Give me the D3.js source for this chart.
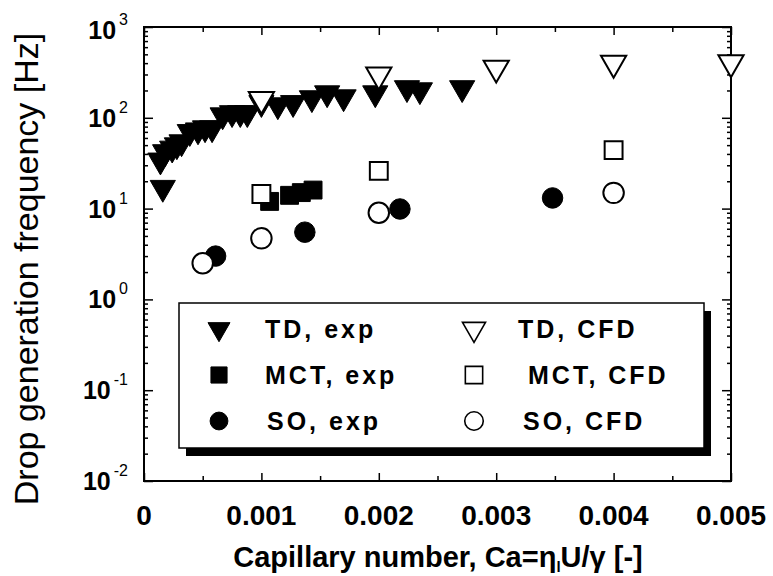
<!DOCTYPE html>
<html>
<head>
<meta charset="utf-8">
<script src="https://cdnjs.cloudflare.com/ajax/libs/d3/7.8.5/d3.min.js"></script>
<style>
	body { margin: 0; background: #fff; }
	text { font-family: "Liberation Sans", Arial, sans-serif; font-weight: bold; fill: #000; }
</style>
</head>
<body>
<svg id="chart" width="773" height="576"></svg>
<script>
// TD, exp (filled down-triangles)
var tdExpCa = [0.00016, 0.00014, 0.00018, 0.00024, 0.00028, 0.00032, 0.00039, 0.00046, 0.00052, 0.00058, 0.00067, 0.00075, 0.00082, 0.00088, 0.00100, 0.00114, 0.00127, 0.00143, 0.00156, 0.00170, 0.00197, 0.00224, 0.00235, 0.00271];
var tdExpF  = [17, 34, 42, 46, 50, 54, 70, 73, 77, 77, 107, 113, 113, 113, 146, 138, 146, 165, 187, 169, 187, 213, 202, 213];
// TD, CFD (open down-triangles)
var tdCfdCa = [0.001, 0.002, 0.003, 0.004, 0.005];
var tdCfdF  = [160, 297, 353, 400, 405];
// MCT, exp (filled squares)
var mctExpCa = [0.00107, 0.00124, 0.00134, 0.00144];
var mctExpF  = [12, 14, 15, 16];
// MCT, CFD (open squares)
var mctCfdCa = [0.001, 0.002, 0.004];
var mctCfdF  = [14.5, 26, 44];
// SO, exp (filled circles)
var soExpCa = [0.00061, 0.00137, 0.00218, 0.00348];
var soExpF  = [3.0, 5.5, 9.9, 13.1];
// SO, CFD (open circles)
var soCfdCa = [0.0005, 0.001, 0.002, 0.004];
var soCfdF  = [2.5, 4.7, 9.0, 14.9];

var xTicks = [0, 0.001, 0.002, 0.003, 0.004, 0.005];
var xMinorTicks = [0.0005, 0.0015, 0.0025, 0.0035, 0.0045];
var yExponents = [-2, -1, 0, 1, 2, 3];
var legendLabels = ["TD, exp", "TD, CFD", "MCT, exp", "MCT, CFD", "SO, exp", "SO, CFD"];

var margin = {left: 144, top: 27, right: 42, bottom: 95},
	width = 773 - margin.left - margin.right,
	height = 576 - margin.top - margin.bottom;

var svg = d3.select("#chart");
var g = svg.append("g").attr("transform", "translate(" + margin.left + "," + margin.top + ")");

var x = d3.scaleLinear().domain([0, 0.005]).range([0, width]);
var y = d3.scaleLog().domain([0.01, 1000]).range([height, 0]);

var yMajor = yExponents.map(function(e){ return Math.pow(10, e); });
var yMinor = y.ticks().filter(function(v){ return Math.abs(Math.log10(v) - Math.round(Math.log10(v))) > 1e-9; });

// frame
g.append("rect")
	.attr("width", width)
	.attr("height", height)
	.attr("fill", "none")
	.attr("stroke", "#000")
	.attr("stroke-width", 2);

function axisLines(axis, tr) {
	var a = g.append("g").attr("transform", tr).call(axis);
	a.select(".domain").remove();
	a.selectAll("line").attr("stroke", "#000").attr("stroke-width", 1.5);
	a.selectAll("text").remove();
	return a;
}

// ticks pointing inward on all four sides
axisLines(d3.axisBottom(x).tickValues(xTicks).tickSize(-8), "translate(0," + height + ")");
axisLines(d3.axisBottom(x).tickValues(xMinorTicks).tickSize(-5), "translate(0," + height + ")");
axisLines(d3.axisTop(x).tickValues(xTicks).tickSize(-8), "translate(0,0)");
axisLines(d3.axisTop(x).tickValues(xMinorTicks).tickSize(-5), "translate(0,0)");
axisLines(d3.axisLeft(y).tickValues(yMajor).tickSize(-9), "translate(0,0)");
axisLines(d3.axisLeft(y).tickValues(yMinor).tickSize(-4), "translate(0,0)");
axisLines(d3.axisRight(y).tickValues(yMajor).tickSize(-9), "translate(" + width + ",0)");
axisLines(d3.axisRight(y).tickValues(yMinor).tickSize(-4), "translate(" + width + ",0)");

// x tick labels
g.selectAll(".xlab")
	.data(xTicks)
	.enter().append("text")
		.attr("class", "xlab")
		.attr("x", function(d){ return x(d); })
		.attr("y", height + 44)
		.attr("text-anchor", "middle")
		.style("font-size", "28px")
		.text(function(d){ return d === 0 ? "0" : d3.format(".3f")(d); });

// y tick labels 10^n
var ylab = g.selectAll(".ylab")
	.data(yExponents)
	.enter().append("text")
		.attr("class", "ylab")
		.attr("x", -16)
		.attr("y", function(d){ return y(Math.pow(10, d)) + (d === 3 ? 12 : 9); })
		.attr("text-anchor", "end")
		.style("font-size", "25px");
ylab.append("tspan").text("10");
ylab.append("tspan")
	.attr("dx", 3)
	.attr("dy", -14)
	.style("font-size", "16px")
	.style("font-weight", "normal")
	.text(function(d){ return d; });

// markers
var triDown = d3.symbol().type(d3.symbolTriangle).size(275);
var square = d3.symbol().type(d3.symbolSquare).size(320);
var circle = d3.symbol().type(d3.symbolCircle).size(330);

function plot(ca, f, path, filled, down) {
	g.append("g").selectAll("path")
		.data(ca.map(function(c, i){ return [c, f[i]]; }))
		.enter().append("path")
			.attr("d", path)
			.attr("transform", function(d){
				return "translate(" + x(d[0]) + "," + y(d[1]) + ")" + (down ? " rotate(180)" : "");
			})
			.attr("fill", filled ? "#000" : "#fff")
			.attr("stroke", "#000")
			.attr("stroke-width", filled ? 1 : 2);
}

plot(tdExpCa, tdExpF, triDown, true, true);
plot(mctExpCa, mctExpF, square, true, false);
plot(soExpCa, soExpF, circle, true, false);
plot(tdCfdCa, tdCfdF, triDown, false, true);
plot(mctCfdCa, mctCfdF, square, false, false);
plot(soCfdCa, soCfdF, circle, false, false);

// legend
var lgLeft = 179, lgTop = 303, lgW = 525, lgH = 145;
var lg = svg.append("g").attr("transform", "translate(" + lgLeft + "," + lgTop + ")");
lg.append("rect")
	.attr("x", 7).attr("y", 8)
	.attr("width", lgW).attr("height", lgH)
	.attr("fill", "#000");
lg.append("rect")
	.attr("width", lgW).attr("height", lgH)
	.attr("fill", "#fff")
	.attr("stroke", "#000")
	.attr("stroke-width", 1.5);

var legSymbols = [
	[d3.symbol().type(d3.symbolTriangle).size(210), true, true],
	[d3.symbol().type(d3.symbolTriangle).size(230), false, true],
	[d3.symbol().type(d3.symbolSquare).size(260), true, false],
	[d3.symbol().type(d3.symbolSquare).size(300), false, false],
	[d3.symbol().type(d3.symbolCircle).size(250), true, false],
	[d3.symbol().type(d3.symbolCircle).size(270), false, false]
];
var legTextX = [86, 339, 86, 349, 88, 344];

legendLabels.forEach(function(lbl, i){
	var col = i % 2, row = Math.floor(i / 2);
	var sx = col === 0 ? 40 : 295, sy = 26 + row * 46;
	lg.append("path")
		.attr("d", legSymbols[i][0])
		.attr("transform", "translate(" + sx + "," + sy + ")" + (legSymbols[i][2] ? " rotate(180)" : ""))
		.attr("fill", legSymbols[i][1] ? "#000" : "#fff")
		.attr("stroke", "#000")
		.attr("stroke-width", legSymbols[i][1] ? 1 : 1.6);
	lg.append("text")
		.attr("x", legTextX[i])
		.attr("y", sy + 9)
		.style("font-size", "25px")
		.style("letter-spacing", "3px")
		.text(lbl);
});

// axis titles
svg.append("text")
	.attr("transform", "translate(38,269) rotate(-90)")
	.attr("text-anchor", "middle")
	.style("font-size", "34px")
	.style("font-weight", "normal")
	.text("Drop generation frequency [Hz]");

var xt = svg.append("text")
	.attr("x", 438)
	.attr("y", 567)
	.attr("text-anchor", "middle")
	.style("font-size", "29px");
xt.append("tspan").text("Capillary number,  Ca=\u03B7");
xt.append("tspan").attr("dy", 5).style("font-size", "15px").text("l");
xt.append("tspan").attr("dy", -5).text("U/\u03B3  [-]");
</script>
</body>
</html>
